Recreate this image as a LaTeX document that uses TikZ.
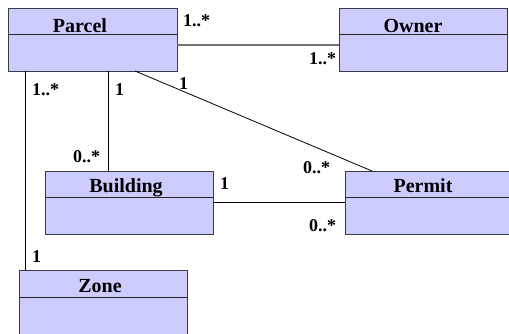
\documentclass[tikz,border=0pt]{standalone}
\usepackage{fontspec}
\setmainfont{Liberation Serif}
\definecolor{classfill}{HTML}{CCCCFF}
\definecolor{classline}{HTML}{3A3A4A}
\tikzset{
  classbox/.style={fill=classfill, draw=classline, line width=1pt},
  divider/.style={draw=black!85, line width=1pt},
  cname/.style={anchor=base, inner sep=0pt, font=\fontsize{20}{22}\selectfont\bfseries},
  mult/.style={anchor=base west, inner sep=0pt, font=\fontsize{18}{20}\selectfont\bfseries},
  assoc/.style={draw=black, line width=0.8pt},
  assocgray/.style={draw=black!55, line width=1.4pt}
}
\begin{document}
\begin{tikzpicture}[x=1pt,y=-1pt]
\useasboundingbox (0,0) rectangle (509,333);
% classes
\path[classbox] (8,8) rectangle (177,71);
\draw[divider] (8,34) -- (177,34);
\node[cname] (parcel) at (80,32) {Parcel};
\coordinate (parcelNE) at (177,45);

\path[classbox] (339,8) rectangle (507,71);
\draw[divider] (339,34) -- (507,34);
\node[cname] (owner) at (413,32) {Owner};
\coordinate (ownerW) at (339,45);

\path[classbox] (45,171) rectangle (213,234);
\draw[divider] (45,197) -- (213,197);
\node[cname] (building) at (126,192) {Building};

\path[classbox] (345,171) rectangle (512,234);
\draw[divider] (345,197) -- (512,197);
\node[cname] (permit) at (423,192) {Permit};

\path[classbox] (19,270) rectangle (187,336);
\draw[divider] (19,297) -- (187,297);
\node[cname] (zone) at (100,292) {Zone};

% connector end points
\coordinate (pZ) at (25,71);
\coordinate (zP) at (25,270);
\coordinate (pB) at (108,71);
\coordinate (bP) at (108,171);
\coordinate (pPe) at (135,71);
\coordinate (peP) at (372,171);
\coordinate (bPe) at (213,202);
\coordinate (peB) at (345,202);

% associations
\draw[assocgray] (parcelNE) -- (ownerW);
\draw[assoc] (pZ) -- (zP);
\draw[assoc] (pB) -- (bP);
\draw[assoc] (pPe) -- (peP);
\draw[assoc] (bPe) -- (peB);

% multiplicities
\node[mult] (m1) at (183,26) {1..*};
\node[mult] (m2) at (309,64) {1..*};
\node[mult] (m3) at (32,95) {1..*};
\node[mult] (m4) at (115,95) {1};
\node[mult] (m5) at (179,89) {1};
\node[mult] (m6) at (73,162) {0..*};
\node[mult] (m7) at (303,173) {0..*};
\node[mult] (m8) at (220,189) {1};
\node[mult] (m9) at (309,231) {0..*};
\node[mult] (m10) at (32,262) {1};
\end{tikzpicture}
\end{document}
